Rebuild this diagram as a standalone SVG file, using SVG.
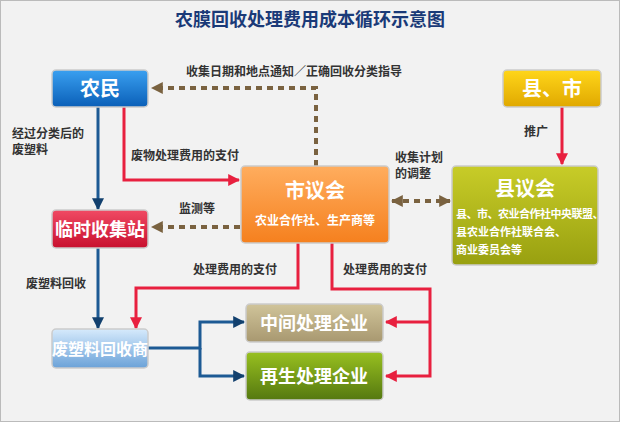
<svg xmlns="http://www.w3.org/2000/svg" width="620" height="422" viewBox="0 0 620 422">
<style>
text{font-family:"Noto Sans CJK SC","Liberation Sans",sans-serif;font-weight:bold}
.lbl{font-size:12px;fill:#333}
.nt{fill:#fff;text-anchor:middle}
.dot{fill:none;stroke:#7a6240;stroke-width:4;stroke-dasharray:6,5}
.red{fill:none;stroke:#e8203f;stroke-width:3}
.blue{fill:none;stroke:#1d5a94;stroke-width:3}
.box{stroke:#ccc;stroke-width:1.5}
</style>
<defs>
<linearGradient id="gBlue" x1="0" y1="0" x2="0" y2="1"><stop offset="0" stop-color="#3aa0f0"/><stop offset="1" stop-color="#0a5fb8"/></linearGradient>
<linearGradient id="gRed" x1="0" y1="0" x2="0" y2="1"><stop offset="0" stop-color="#f04a64"/><stop offset="1" stop-color="#c8102e"/></linearGradient>
<linearGradient id="gLb" x1="0" y1="0" x2="0" y2="1"><stop offset="0" stop-color="#d6eafc"/><stop offset="1" stop-color="#6ba2d8"/></linearGradient>
<linearGradient id="gOr" x1="0" y1="0" x2="0" y2="1"><stop offset="0" stop-color="#ffad5e"/><stop offset="1" stop-color="#f5801e"/></linearGradient>
<linearGradient id="gOl" x1="0" y1="0" x2="0" y2="1"><stop offset="0" stop-color="#c8cc28"/><stop offset="1" stop-color="#98a010"/></linearGradient>
<linearGradient id="gYe" x1="0" y1="0" x2="0" y2="1"><stop offset="0" stop-color="#ffd61a"/><stop offset="1" stop-color="#e0a800"/></linearGradient>
<linearGradient id="gTan" x1="0" y1="0" x2="0" y2="1"><stop offset="0" stop-color="#d0c49a"/><stop offset="1" stop-color="#a89870"/></linearGradient>
<linearGradient id="gGr" x1="0" y1="0" x2="0" y2="1"><stop offset="0" stop-color="#98c020"/><stop offset="1" stop-color="#557810"/></linearGradient>
<marker id="aBr" viewBox="0 0 10 10" refX="9" refY="5" markerWidth="3" markerHeight="3.5" orient="auto-start-reverse"><path d="M0,0L10,5L0,10z" fill="#7a6240"/></marker>
<marker id="aRd" viewBox="0 0 10 10" refX="9" refY="5" markerWidth="4" markerHeight="4.5" orient="auto"><path d="M0,0L10,5L0,10z" fill="#e8203f"/></marker>
<marker id="aBl" viewBox="0 0 10 10" refX="9" refY="5" markerWidth="4" markerHeight="4.5" orient="auto"><path d="M0,0L10,5L0,10z" fill="#12406e"/></marker>
</defs>
<rect x="0.5" y="0.5" width="619" height="421" fill="#f2f2f2" stroke="#bbb"/>
<text x="310" y="26" font-size="18" fill="#1a3a78" text-anchor="middle">农膜回收处理费用成本循环示意图</text>
<g id="connectors">
<path class="dot" d="M316,166V88H152" marker-end="url(#aBr)"/>
<path class="dot" d="M240,227H152" marker-end="url(#aBr)"/>
<path class="dot" d="M392,201H450" marker-start="url(#aBr)" marker-end="url(#aBr)"/>
<path class="red" d="M124,107V180H239" marker-end="url(#aRd)"/>
<path class="blue" d="M98,107V209" marker-end="url(#aBl)"/>
<path class="blue" d="M98,248V328" marker-end="url(#aBl)"/>
<path class="red" d="M298,243V288H136V328" marker-end="url(#aRd)"/>
<path class="red" d="M332,243V289H430V376H386" marker-end="url(#aRd)"/>
<path class="red" d="M430,322H386" marker-end="url(#aRd)"/>
<path class="blue" d="M148,348H200V322H244" marker-end="url(#aBl)"/>
<path class="blue" d="M200,348V376H244" marker-end="url(#aBl)"/>
<path class="red" d="M562,107V164" marker-end="url(#aRd)"/>
<text class="lbl" x="186" y="76">收集日期和地点通知／正确回收分类指导</text>
<text class="lbl" x="12" y="138">经过分类后的</text>
<text class="lbl" x="12" y="154">废塑料</text>
<text class="lbl" x="131" y="160">废物处理费用的支付</text>
<text class="lbl" x="179" y="213">监测等</text>
<text class="lbl" x="395" y="162">收集计划</text>
<text class="lbl" x="395" y="178">的调整</text>
<text class="lbl" x="524" y="136">推广</text>
<text class="lbl" x="26" y="288">废塑料回收</text>
<text class="lbl" x="193" y="274">处理费用的支付</text>
<text class="lbl" x="343" y="274">处理费用的支付</text>
</g>
<g id="nongmin"><rect class="box" x="52" y="70" width="96" height="37" rx="4" fill="url(#gBlue)"/><text class="nt" x="100" y="96" font-size="20">农民</text></g>
<g id="linshi"><rect class="box" x="52" y="210" width="96" height="38" rx="4" fill="url(#gRed)"/><text class="nt" x="100" y="236" font-size="18">临时收集站</text></g>
<g id="huishoushang"><rect class="box" x="52" y="329" width="96" height="39" rx="4" fill="url(#gLb)"/><text class="nt" x="100" y="355" font-size="16">废塑料回收商</text></g>
<g id="shiyihui"><rect class="box" x="241" y="166" width="148" height="77" rx="4" fill="url(#gOr)"/><text class="nt" x="315" y="198" font-size="20">市议会</text><text class="nt" x="315" y="225" font-size="12">农业合作社、生产商等</text></g>
<g id="xianyihui"><rect class="box" x="452" y="166" width="146" height="99" rx="4" fill="url(#gOl)"/><text class="nt" x="525" y="196" font-size="20">县议会</text><text x="456" y="218" font-size="11" letter-spacing="-0.5" fill="#fff">县、市、农业合作社中央联盟、</text><text x="456" y="236" font-size="11" fill="#fff">县农业合作社联合会、</text><text x="456" y="254" font-size="11" fill="#fff">商业委员会等</text></g>
<g id="xianshi"><rect class="box" x="503" y="70" width="98" height="37" rx="4" fill="url(#gYe)"/><text class="nt" x="552" y="96" font-size="20">县、市</text></g>
<g id="zhongjian"><rect class="box" x="246" y="304" width="137" height="38" rx="4" fill="url(#gTan)"/><text class="nt" x="314" y="330" font-size="18">中间处理企业</text></g>
<g id="zaisheng"><rect class="box" x="246" y="352" width="137" height="48" rx="4" fill="url(#gGr)"/><text class="nt" x="314" y="383" font-size="18">再生处理企业</text></g>
</svg>
